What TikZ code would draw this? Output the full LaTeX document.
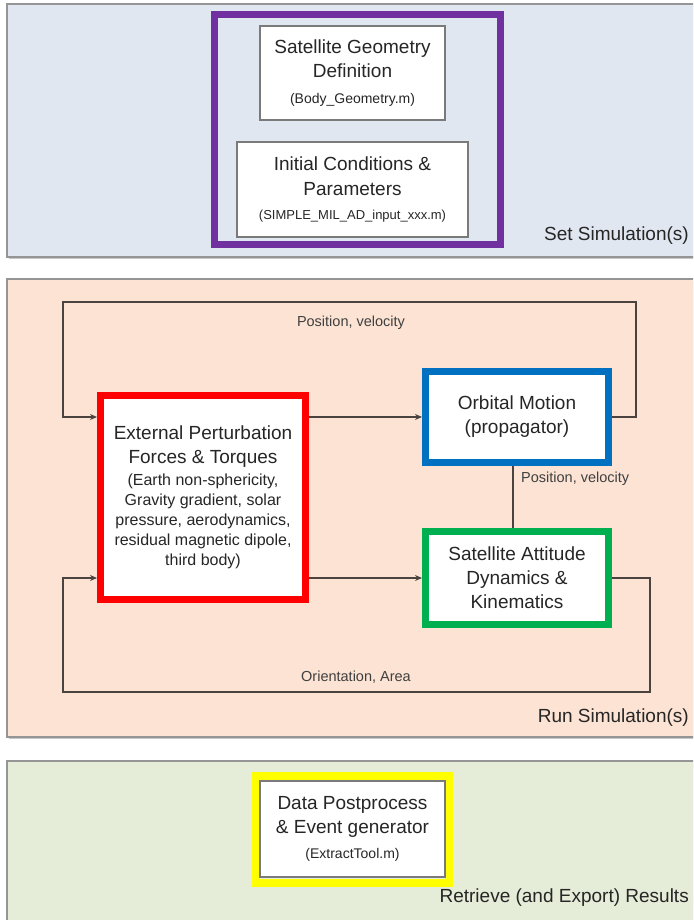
\documentclass[tikz,border=0pt]{standalone}
\usepackage{fontspec}
\setmainfont{Liberation Sans}
\usetikzlibrary{arrows.meta}
\definecolor{panelA}{HTML}{E1E7F0}
\definecolor{panelB}{HTML}{FCE3D3}
\definecolor{panelC}{HTML}{E5ECD8}
\definecolor{wire}{HTML}{4A4340}
\definecolor{cpurple}{HTML}{7030A0}
\definecolor{cred}{HTML}{FF0000}
\definecolor{cblue}{HTML}{0070C0}
\definecolor{cgreen}{HTML}{00B050}
\definecolor{cyellow}{HTML}{FFFF00}
\definecolor{boxgray}{HTML}{7A7A7A}
\newcommand{\smalltxt}[1]{{\fontsize{14}{16}\selectfont #1}}
\newcommand{\tinytxt}[1]{{\fontsize{13}{16}\selectfont #1}}
\newcommand{\bigtxt}[1]{{\fontsize{19}{24}\selectfont #1}}
\begin{document}
\begin{tikzpicture}[x=1pt,y=-1pt,
  panel/.style={draw=boxgray!80, line width=1.5pt},
  frame/.style={draw=#1, line width=7pt, fill=white, inner sep=0pt, align=center, text=black!85},
  ring/.style={draw=#1, line width=7pt, inner sep=0pt},
  plainbox/.style={draw=boxgray, line width=1.5pt, fill=white, inner sep=0pt, align=center, text=black!85},
  big/.style={font=\fontsize{19}{24}\selectfont},
  detail/.style={font=\fontsize{16}{20}\selectfont},
  lbl/.style={font=\fontsize{14.5}{16}\selectfont, text=black!75, inner sep=0pt},
  title/.style={font=\fontsize{19}{22}\selectfont, text=black!85, inner sep=0pt, anchor=east},
  wireline/.style={draw=wire, line width=1.5pt},
  arr/.style={wireline, -{Stealth[length=7pt,width=6pt]}},
]
\useasboundingbox (0,0) rectangle (693,920);
\fill[white] (0,0) rectangle (693,920);
\begin{scope}
\clip (0,0) rectangle (693,920);
\fill[black!22] (9,6) rectangle (710,259);
\filldraw[panel, fill=panelA] (7,4) rectangle (710,257);
\fill[black!22] (9,281) rectangle (710,739);
\filldraw[panel, fill=panelB] (7,279) rectangle (710,737);
\fill[black!22] (9,763) rectangle (710,930);
\filldraw[panel, fill=panelC] (7,761) rectangle (710,930);
\end{scope}

% Set simulation
\node[ring=cpurple, minimum width=286pt, minimum height=230pt] (setframe) at (357.5,129.5) {};
\node[plainbox, big, minimum width=185pt, minimum height=94pt] (geom) at (352.5,73)
  {Satellite Geometry\\Definition\\[2pt]\smalltxt{(Body\_Geometry.m)}};
\node[plainbox, big, minimum width=231pt, minimum height=95pt] (init) at (352.5,189.5)
  {Initial Conditions \&\\[1pt]Parameters\\\tinytxt{(SIMPLE\_MIL\_AD\_input\_xxx.m)}};
\node[title] (t1) at (689,236) {Set Simulation(s)};

% Run simulation
\node[frame=cred, detail, minimum width=205pt, minimum height=204pt] (pert) at (203,497.5)
  {\bigtxt{External Perturbation}\\[4pt]\bigtxt{Forces \& Torques}\\[1.5pt](Earth non-sphericity,\\Gravity gradient, solar\\pressure, aerodynamics,\\residual magnetic dipole,\\third body)};
\node[frame=cblue, big, minimum width=183pt, minimum height=91pt] (orbit) at (517,417)
  {Orbital Motion\\(propagator)};
\node[frame=cgreen, big, minimum width=183pt, minimum height=93pt] (att) at (517,578)
  {Satellite Attitude\\Dynamics \&\\Kinematics};

\coordinate (tl) at (63,302);
\coordinate (tr) at (636,302);
\coordinate (bl) at (63,692);
\coordinate (br) at (650,692);
\coordinate (vx) at (513,0);

\draw[arr] (orbit.east) -| (tr) -- (tl) |- (pert.west |- orbit.west);
\draw[arr] (pert.east |- orbit.west) -- (orbit.west);
\draw[arr] (pert.east |- att.west) -- (att.west);
\draw[arr] (att.east) -| (br) -- (bl) |- (pert.west |- att.west);
\draw[wireline] (orbit.south -| vx) -- (att.north -| vx);

\node[lbl] (pv1) at (351,323) {Position, velocity};
\node[lbl, anchor=west] (pv2) at (521,479) {Position, velocity};
\node[lbl] (oa) at (356,677) {Orientation, Area};
\node[title] (t2) at (689,718) {Run Simulation(s)};

% Retrieve results
\node[ring=cyellow, line width=8pt, minimum width=193pt, minimum height=107pt] (yframe) at (352.5,829.5) {};
\node[plainbox, big, minimum width=185pt, minimum height=96pt] (post) at (352.5,829)
  {Data Postprocess\\\& Event generator\\[1pt]\smalltxt{(ExtractTool.m)}};
\node[title] (t3) at (689,898) {Retrieve (and Export) Results};
\end{tikzpicture}
\end{document}
